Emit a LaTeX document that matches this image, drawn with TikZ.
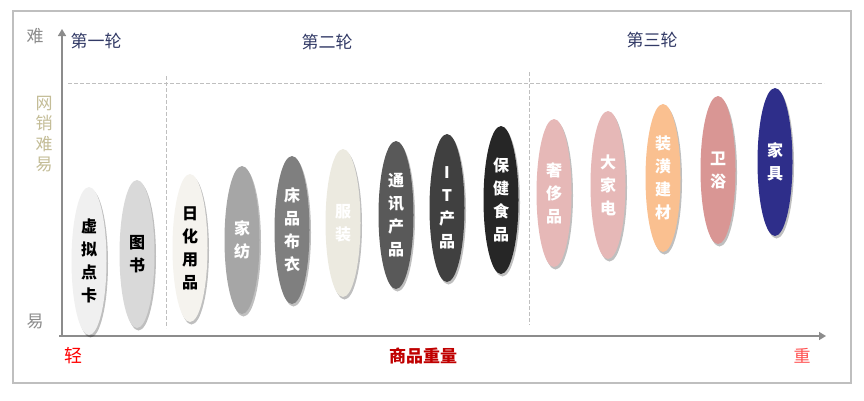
\documentclass[tikz,border=0pt]{standalone}
\usepackage{fontspec}
\setmainfont{Noto Sans CJK SC}
\usetikzlibrary{shapes.geometric,shadows,arrows.meta}
\definecolor{frameg}{HTML}{BFBFBF}
\definecolor{axisg}{HTML}{8C8C8C}
\definecolor{navyt}{HTML}{323A66}
\definecolor{tan}{HTML}{C4BD97}
\definecolor{darkred}{HTML}{C00000}
\definecolor{lightred}{HTML}{FF4F4F}
\definecolor{cA}{HTML}{F0F0F0}
\definecolor{cB}{HTML}{D9D9D9}
\definecolor{cC}{HTML}{F5F3EE}
\definecolor{cD}{HTML}{A6A6A6}
\definecolor{cE}{HTML}{7F7F7F}
\definecolor{cF}{HTML}{ECEAE0}
\definecolor{cG}{HTML}{595959}
\definecolor{cH}{HTML}{404040}
\definecolor{cI}{HTML}{262626}
\definecolor{cJ}{HTML}{E6B8B7}
\definecolor{cK}{HTML}{FAC090}
\definecolor{cL}{HTML}{D99694}
\definecolor{cM}{HTML}{2E2E8A}
\begin{document}
\begin{tikzpicture}[x=1pt,y=-1pt,
  pill/.style={ellipse,minimum width=35pt,minimum height=148pt,inner sep=0pt,
    align=center,font=\fontsize{16}{23}\selectfont\bfseries,
    drop shadow={shadow xshift=1.5pt,shadow yshift=-2.5pt,opacity=0.25,fill=black}},
  round/.style={font=\fontsize{17}{20}\selectfont,text=navyt,inner sep=0pt},
  sep/.style={draw=frameg,dashed,dash pattern=on 4pt off 2pt,line width=0.9pt},
  axis/.style={draw=axisg,line width=1.5pt,-{Triangle[length=7pt,width=8pt]}}]
\useasboundingbox (0,0) rectangle (864,400);
\fill[white] (0,0) rectangle (864,400);
\draw[frameg,line width=1.5pt] (13,11) rectangle (851,383);
% guides
\coordinate (hl) at (68,83);
\coordinate (hr) at (824,83);
\coordinate (v1t) at (166,76);
\coordinate (v1b) at (166,328);
\coordinate (v2t) at (529,72);
\coordinate (v2b) at (529,325);
\draw[sep] (hl) -- (hr);
\draw[sep] (v1t) -- (v1b);
\draw[sep] (v2t) -- (v2b);
% axes
\coordinate (o) at (62,336);
\coordinate (ytip) at (62,29);
\coordinate (xstart) at (59,336);
\coordinate (xtip) at (826,336);
\draw[axis] (o) -- (ytip);
\draw[axis] (xstart) -- (xtip);
% axis labels
\node[text=axisg,font=\fontsize{17}{20}\selectfont,inner sep=0pt] (nan) at (35,36) {难};
\node[text=axisg,font=\fontsize{17}{20}\selectfont,inner sep=0pt] (yi) at (35,321) {易};
\node[text=tan,font=\fontsize{17}{20.5}\selectfont,align=center,inner sep=0pt] (wx) at (44,134) {网\\销\\难\\易};
\node[text=red,font=\fontsize{18}{20}\selectfont,inner sep=0pt] (qing) at (73,356) {轻};
\node[text=darkred,font=\fontsize{17}{20}\selectfont\bfseries,inner sep=0pt] (spzl) at (423,356) {商品重量};
\node[text=lightred,font=\fontsize{17}{20}\selectfont,inner sep=0pt] (zhong) at (802,356) {重};
% rounds
\node[round] (r1) at (96,41) {第一轮};
\node[round] (r2) at (327,42) {第二轮};
\node[round] (r3) at (652,40) {第三轮};
% pills
\node[pill,fill=cA,text=black] (p1) at (89,261) {虚\\拟\\点\\卡};
\node[pill,fill=cB,text=black] (p2) at (137,254) {图\\书};
\node[pill,fill=cC,text=black] (p3) at (190,248) {日\\化\\用\\品};
\node[pill,fill=cD,text=white] (p4) at (242,240) {家\\纺};
\node[pill,fill=cE,text=white] (p5) at (292,230) {床\\品\\布\\衣};
\node[pill,fill=cF,text=white] (p6) at (343,223) {服\\装};
\node[pill,fill=cG,text=white] (p7) at (396,215) {通\\讯\\产\\品};
\node[pill,fill=cH,text=white] (p8) at (447,208) {I\\T\\产\\品};
\node[pill,fill=cI,text=white] (p9) at (501,200) {保\\健\\食\\品};
\node[pill,fill=cJ,text=white] (p10) at (554,193) {奢\\侈\\品};
\node[pill,fill=cJ,text=white] (p11) at (608,185) {大\\家\\电};
\node[pill,fill=cK,text=white] (p12) at (663,178) {装\\潢\\建\\材};
\node[pill,fill=cL,text=white] (p13) at (718,170) {卫\\浴};
\node[pill,fill=cM,text=white] (p14) at (775,162) {家\\具};
\end{tikzpicture}
\end{document}
